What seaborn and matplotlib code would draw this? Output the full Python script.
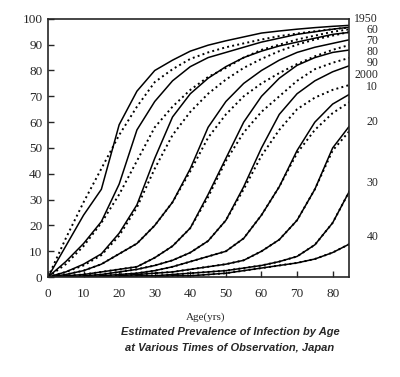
import pandas as pd
import seaborn as sns
import matplotlib.pyplot as plt

sns.set_style("ticks")
plt.rcParams["font.family"] = ["Liberation Serif", "DejaVu Serif"]

"""
Estimated prevalence of infection by age at various times of observation (Japan).
Solid lines = estimated curves, dotted lines = fitted curves.
"""
# Data
ages = [0, 5, 10, 15, 20, 25, 30, 35, 40, 45, 50, 55, 60, 65, 70, 75, 80, 85]
years = [1950, 1960, 1970, 1980, 1990, 2000, 2010, 2020, 2030, 2040]

solid_1950 = [0, 12, 24, 34, 59, 72, 80, 84, 87.5, 89.8, 91.5, 93, 94.5, 95.3, 96, 96.6, 97.1, 97.5]
solid_1960 = [0, 6, 13, 21.5, 36, 57, 68, 76, 81.5, 85, 87, 89, 91, 92.5, 94, 95, 96, 96.8]
solid_1970 = [0, 2, 5, 9, 17, 28, 46, 62, 71, 77, 81.5, 85, 87.5, 89.5, 91, 92.5, 94, 94.8]
solid_1980 = [0, 1, 2.5, 5, 9, 13, 20, 29, 42, 58, 68, 75, 80, 84, 87, 89, 90.5, 92]
solid_1990 = [0, 0.5, 1, 2, 3, 4, 7.5, 12, 19, 32, 46, 60, 70, 77, 82, 85, 87, 88]
solid_2000 = [0, 0, 0.5, 1, 2, 3, 4.5, 6.5, 9.5, 14, 22, 35, 50, 63, 71, 76, 79.5, 82]
solid_2010 = [0, 0, 0, 0.5, 1, 1.5, 2.5, 4, 6, 8, 10, 15, 24, 35, 49, 60, 67, 71]
solid_2020 = [0, 0, 0, 0, 0.5, 1, 1.5, 2, 3, 4, 5, 6.5, 10, 14.5, 22, 34, 50, 59]
solid_2030 = [0, 0, 0, 0, 0, 0.5, 0.5, 1, 1.5, 2, 2.5, 3.5, 4.5, 6, 8, 12.5, 21, 34]
solid_2040 = [0, 0, 0, 0, 0, 0, 0, 0.5, 0.5, 1, 1.5, 2.5, 3.5, 4.5, 5.5, 7, 9.5, 13]

dot_1950 = [0, 15, 29, 42, 55, 66, 75.5, 80.5, 84.5, 87, 89, 90.5, 92, 93.3, 94.3, 95.2, 96, 96.7]
dot_1960 = [0, 5, 12, 21, 32, 45, 58, 66, 72.5, 77.5, 81, 85, 88, 90, 92, 93.5, 95, 96]
dot_1970 = [0, 2, 4.5, 8.5, 16, 27, 42, 55, 64, 71, 76.5, 81, 84.5, 87.5, 90, 92, 93.5, 95]
dot_1980 = [0, 1, 2.5, 5, 9, 13, 20, 29, 41, 54, 63, 70, 75, 79, 82.5, 85.5, 88, 90]
dot_1990 = [0, 0.5, 1, 2, 3, 4, 7.5, 12, 19, 31, 45, 56, 64, 70, 76, 80.5, 83, 85]
dot_2000 = [0, 0, 0.5, 1, 2, 3, 4.5, 6.5, 9.5, 14, 22, 34, 47, 57, 65, 69.5, 72.5, 74.5]
dot_2010 = [0, 0, 0, 0.5, 1, 1.5, 2.5, 4, 6, 8, 10, 15, 24, 35, 48, 57, 63.5, 68]
dot_2020 = [0, 0, 0, 0, 0.5, 1, 1.5, 2, 3, 4, 5, 6.5, 10, 14.5, 22, 34, 49, 57]
dot_2030 = [0, 0, 0, 0, 0, 0.5, 0.5, 1, 1.5, 2, 2.5, 3.5, 4.5, 6, 8, 12.5, 21, 34]
dot_2040 = [0, 0, 0, 0, 0, 0, 0, 0.5, 0.5, 1, 1.5, 2.5, 3.5, 4.5, 5.5, 7, 9.5, 13]

year_labels = ["1950", "60", "70", "80", "90", "2000", "10", "20", "30", "40"]

solid = [solid_1950, solid_1960, solid_1970, solid_1980, solid_1990,
         solid_2000, solid_2010, solid_2020, solid_2030, solid_2040]
dotted = [dot_1950, dot_1960, dot_1970, dot_1980, dot_1990,
          dot_2000, dot_2010, dot_2020, dot_2030, dot_2040]

# Build long table
rows = []
for yr, s, d in zip(years, solid, dotted):
    for a, vs, vd in zip(ages, s, d):
        rows.append({"age": a, "year": yr, "solid": vs, "dotted": vd})
df = pd.DataFrame(rows)

# label heights on the right margin (layout only)
label_y = [100, 95.7, 91.4, 87.1, 82.8, 78.3, 73.6, 60, 36.4, 15.5]

fig = plt.figure(figsize=(4, 3.77), dpi=100)
ax = fig.add_axes([0.12, 0.265, 0.7525, 0.685])

sns.lineplot(data=df, x="age", y="dotted", units="year", estimator=None,
             color="black", linestyle=":", linewidth=1.4, ax=ax, legend=False)
sns.lineplot(data=df, x="age", y="solid", units="year", estimator=None,
             color="black", linewidth=1.1, ax=ax, legend=False)

ax.set_xlim(0, 84.6)
ax.set_ylim(0, 100)
ax.set_xticks([0, 10, 20, 30, 40, 50, 60, 70, 80])
ax.set_yticks([0, 10, 20, 30, 40, 50, 60, 70, 80, 90, 100])
ax.tick_params(direction="in", length=4, width=1, labelsize=9.5)
ax.tick_params(axis="x", pad=8)
ax.tick_params(axis="y", pad=4)
for sp in ax.spines.values():
    sp.set_linewidth(1.2)
    sp.set_visible(True)
ax.set_xlabel("Age(yrs)", fontsize=8)
ax.xaxis.set_label_coords(0.525, -0.135)
ax.set_ylabel(None)

for lab, yv in zip(year_labels, label_y):
    ax.text(1.097, yv, lab, transform=ax.get_yaxis_transform(), ha="right",
            va="center", fontsize=8.5)

fig.text(0.575, 1 - 332 / 377, "Estimated Prevalence of Infection by Age",
         ha="center", va="center", fontsize=8, fontweight="heavy",
         style="italic", family="Liberation Sans")
fig.text(0.575, 1 - 348 / 377, "at Various Times of Observation, Japan",
         ha="center", va="center", fontsize=8, fontweight="heavy",
         style="italic", family="Liberation Sans")

plt.savefig("out.png", dpi=100)
plt.close()
